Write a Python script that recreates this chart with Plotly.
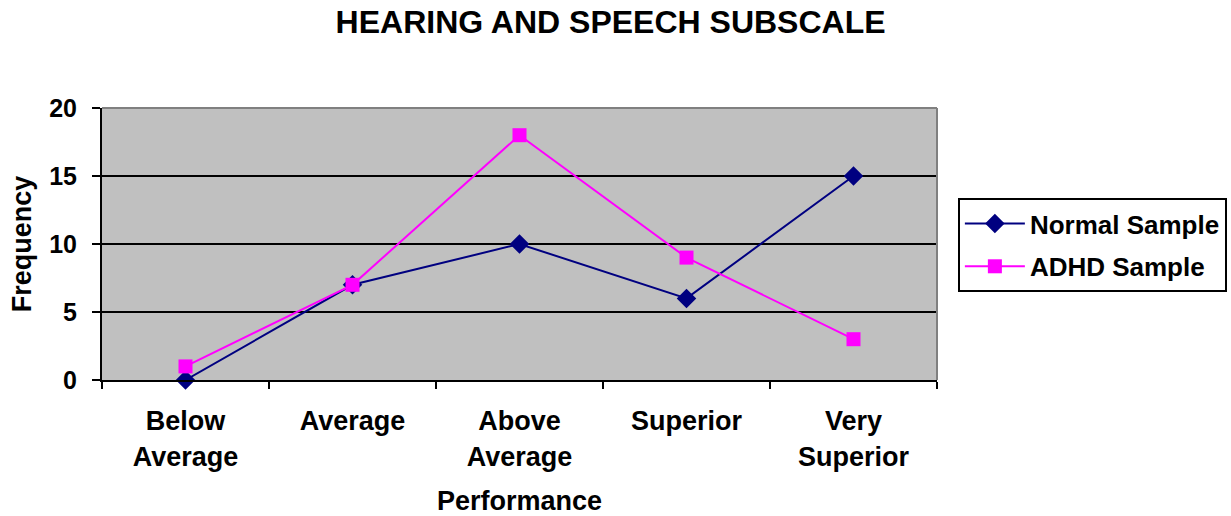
import plotly.graph_objects as go

categories = ["Below<br>Average", "Average", "Above<br>Average", "Superior", "Very<br>Superior"]
normal_sample = [0, 7, 10, 6, 15]
adhd_sample = [1, 7, 18, 9, 3]
y_ticks = [0, 5, 10, 15, 20]

FONT = "Arial, Liberation Sans, sans-serif"

fig = go.Figure()
fig.add_trace(go.Scatter(
    x=categories, y=normal_sample, name="<b>Normal Sample</b>", mode="lines+markers",
    line=dict(color="#000080", width=2),
    marker=dict(symbol="diamond", size=15, color="#000080"),
    legendgroup="a", cliponaxis=False,
))
fig.add_trace(go.Scatter(
    x=categories, y=adhd_sample, name="<b>ADHD Sample</b>", mode="lines+markers",
    line=dict(color="#FF00FF", width=2),
    marker=dict(symbol="square", size=14, color="#FF00FF"),
    legendgroup="b", cliponaxis=False,
))

fig.update_layout(
    width=1231, height=516,
    margin=dict(l=102, r=294, t=108, b=136, autoexpand=False),
    paper_bgcolor="white", plot_bgcolor="#C0C0C0",
    font=dict(family=FONT, color="black"),
    title=dict(text="<b>HEARING AND SPEECH SUBSCALE</b>", x=0.496, xref="container",
               xanchor="center", y=0.957, yanchor="middle", font=dict(size=32, family=FONT)),
    showlegend=True,
    legend=dict(x=1.025, xanchor="left", y=0.496, yanchor="middle",
                bordercolor="black", borderwidth=2, bgcolor="white",
                font=dict(size=26, family=FONT), tracegroupgap=6,
                itemwidth=60),
    xaxis=dict(
        type="category", range=[-0.5, 4.5], tickson="boundaries",
        showline=True, linecolor="black", linewidth=2,
        ticks="outside", ticklen=7, tickwidth=2, tickcolor="black",
        showgrid=False, zeroline=False, automargin=False,
        tickfont=dict(size=27, family=FONT), ticklabelstandoff=16,
        title=dict(text="<b>Performance</b>", font=dict(size=27, family=FONT), standoff=27),
    ),
    yaxis=dict(
        range=[0, 20], tickvals=y_ticks,
        showline=True, linecolor="black", linewidth=2,
        ticks="outside", ticklen=8, tickwidth=2, tickcolor="black",
        showgrid=True, gridcolor="black", gridwidth=2, zeroline=False, automargin=False,
        tickfont=dict(size=25, family=FONT), ticklabelstandoff=10,
        title=dict(text="<b>Frequency</b>", font=dict(size=27, family=FONT), standoff=10),
    ),
)
fig.update_xaxes(ticktext=["<b>" + c + "</b>" for c in categories], tickvals=categories)
fig.update_yaxes(ticktext=["<b>%d</b>" % v for v in y_ticks])

# top and right gray border of plot area
fig.add_shape(type="line", xref="paper", yref="paper", x0=0, x1=1, y0=1, y1=1,
              line=dict(color="#808080", width=2))
fig.add_shape(type="line", xref="paper", yref="paper", x0=1, x1=1, y0=0, y1=1,
              line=dict(color="#808080", width=2))

fig.write_html("out.html", config={"displayModeBar": False},
               post_script="document.body.style.margin='0';document.body.style.overflow='hidden';")
